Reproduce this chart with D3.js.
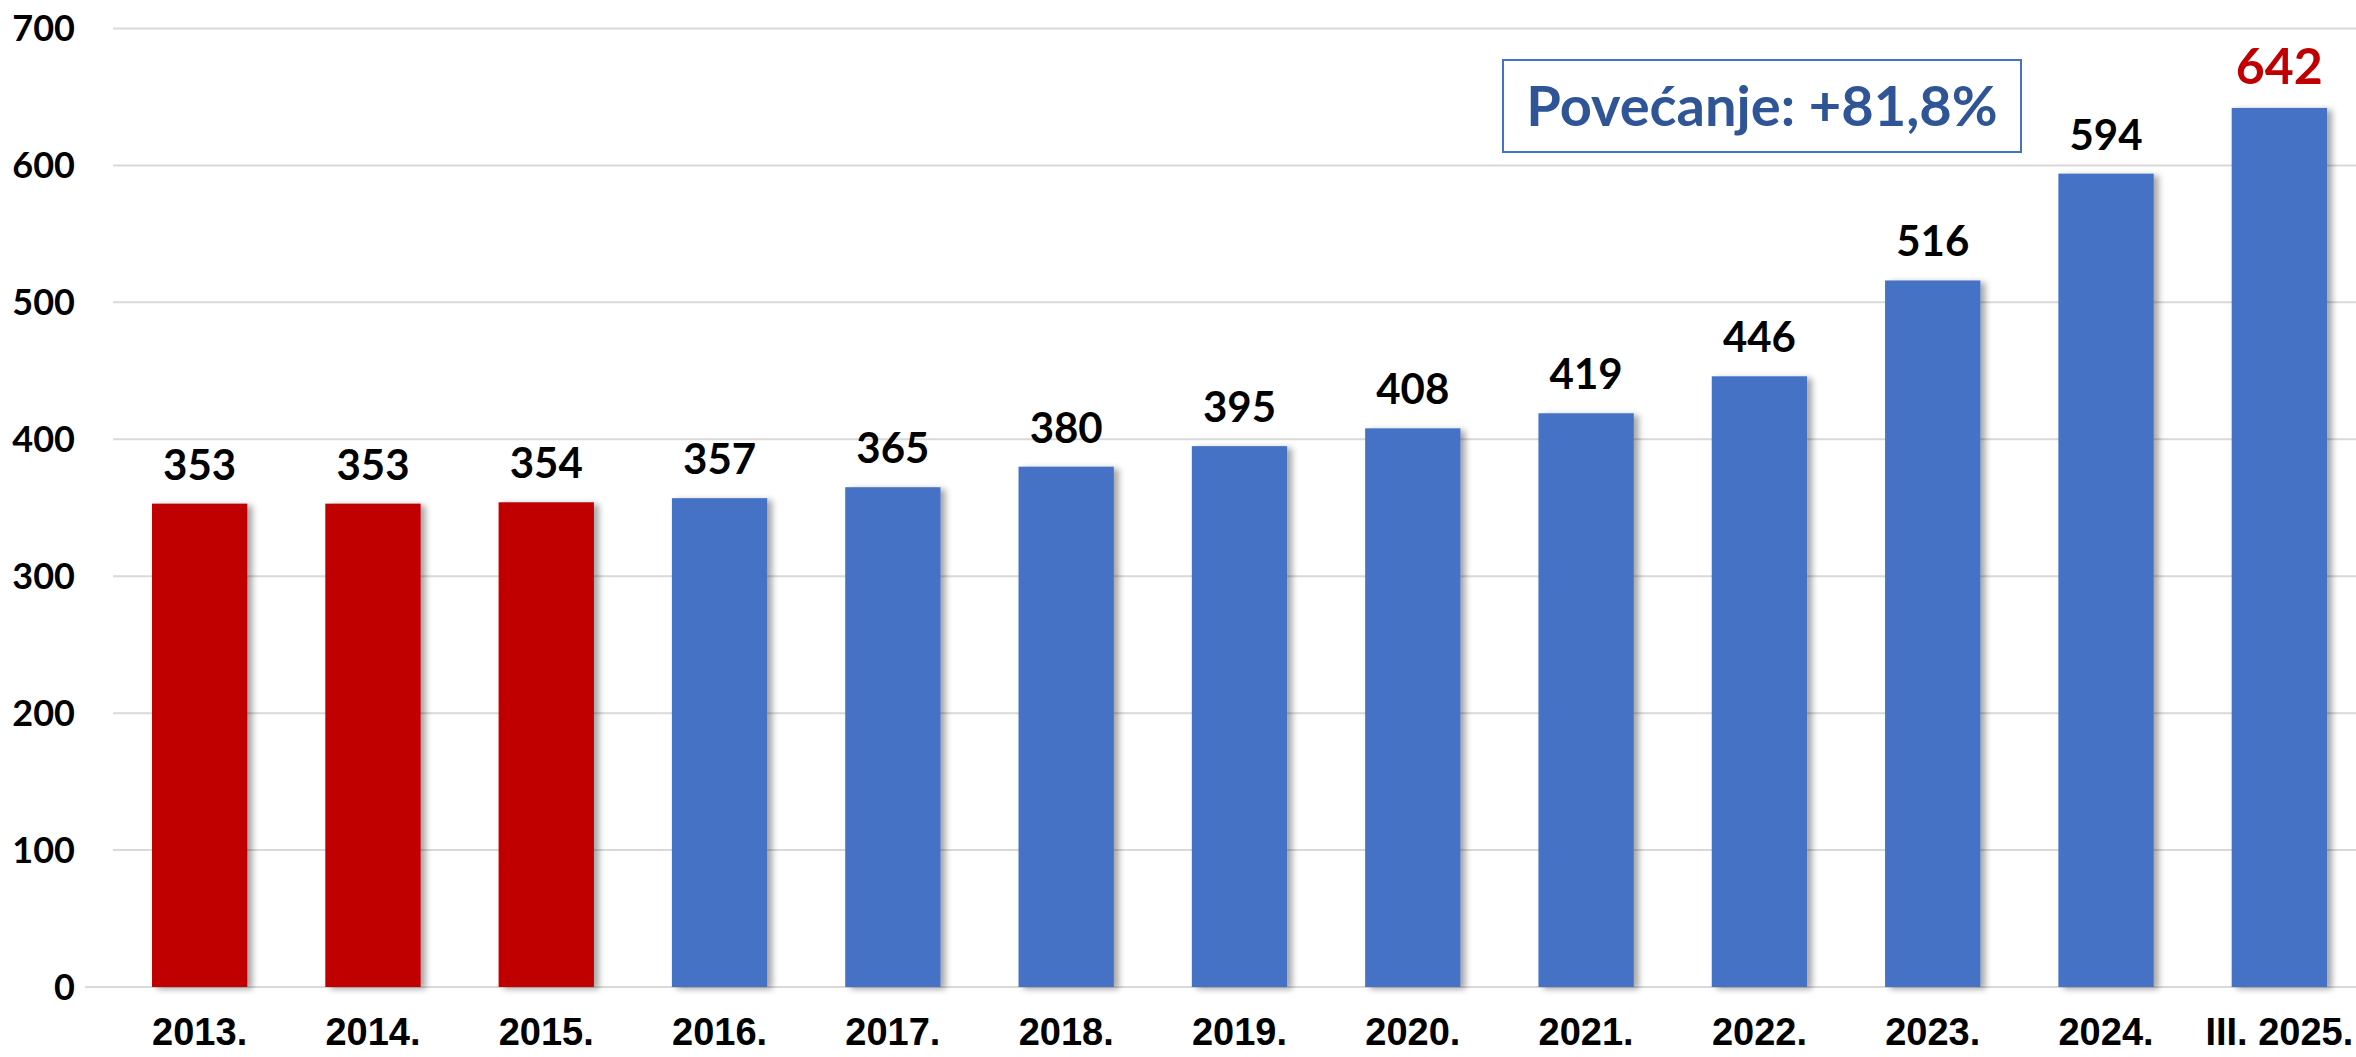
<!DOCTYPE html>
<html>
<head>
<meta charset="utf-8">
<script src="https://cdn.jsdelivr.net/npm/d3@7"></script>
<style>
  body { margin: 0; background: #fff; }
  svg { display: block; }
</style>
</head>
<body>
<div id="chart"></div>
<script>
// Data
const categories = ["2013.", "2014.", "2015.", "2016.", "2017.", "2018.", "2019.",
    "2020.", "2021.", "2022.", "2023.", "2024.", "III. 2025."];
const values = [353, 353, 354, 357, 365, 380, 395, 408, 419, 446, 516, 594, 642];
const redBars = ["2013.", "2014.", "2015."];
const yTicks = [0, 100, 200, 300, 400, 500, 600, 700];
const note = "Povećanje: +81,8%";

const data = categories.map((c, i) => ({ category: c, value: values[i] }));

const width = 2356;
const height = 1057;
const left = 113;

const svg = d3.select("#chart")
    .append("svg")
    .attr("width", width)
    .attr("height", height);

// soft shadow on the right side of the bars
const defs = svg.append("defs");
defs.append("filter")
    .attr("id", "shadow")
    .attr("x", "-20%").attr("y", "-5%")
    .attr("width", "150%").attr("height", "110%")
    .append("feDropShadow")
    .attr("dx", 5).attr("dy", 2)
    .attr("stdDeviation", 3)
    .attr("flood-color", "#000")
    .attr("flood-opacity", 0.35);

const x = d3.scaleBand()
    .domain(categories)
    .range([left, 2366])
    .paddingInner(0.45)
    .paddingOuter(0.225);

const y = d3.scaleLinear()
    .domain([0, 700])
    .range([987, 28.5]);

// Gridlines
svg.append("g")
    .selectAll("line")
    .data(yTicks)
    .enter()
    .append("line")
    .attr("x1", d => d === 0 ? 85 : left)
    .attr("x2", width)
    .attr("y1", d => y(d))
    .attr("y2", d => y(d))
    .attr("stroke", "#d9d9d9")
    .attr("stroke-width", 2);

// Y axis labels
svg.append("g")
    .selectAll("text")
    .data(yTicks)
    .enter()
    .append("text")
    .attr("x", 75)
    .attr("y", d => y(d))
    .attr("dy", "0.36em")
    .attr("text-anchor", "end")
    .style("font-family", "Lato, 'Open Sans', sans-serif")
    .style("font-weight", "bold")
    .style("font-size", "36px")
    .style("fill", "#000")
    .text(d => d);

// Bars
svg.append("g")
    .selectAll("rect")
    .data(data)
    .enter()
    .append("rect")
    .attr("x", d => x(d.category))
    .attr("y", d => y(d.value))
    .attr("width", x.bandwidth())
    .attr("height", d => y(0) - y(d.value))
    .attr("fill", d => redBars.includes(d.category) ? "#C00000" : "#4472C4")
    .attr("filter", "url(#shadow)");

// Value labels
const last = categories[categories.length - 1];
svg.append("g")
    .selectAll("text")
    .data(data)
    .enter()
    .append("text")
    .attr("x", d => x(d.category) + x.bandwidth() / 2)
    .attr("y", d => y(d.value) - 24)
    .attr("text-anchor", "middle")
    .style("font-family", "Lato, 'Open Sans', sans-serif")
    .style("font-weight", "bold")
    .style("font-size", d => d.category === last ? "50px" : "42px")
    .style("fill", d => d.category === last ? "#C00000" : "#000")
    .text(d => d.value);

// X axis labels
svg.append("g")
    .selectAll("text")
    .data(categories)
    .enter()
    .append("text")
    .attr("x", d => x(d) + x.bandwidth() / 2)
    .attr("y", 1045)
    .attr("text-anchor", "middle")
    .style("font-family", "'Liberation Sans', Arial, sans-serif")
    .style("font-weight", "bold")
    .style("font-size", "38px")
    .style("fill", "#000")
    .text(d => d);

// Annotation box
const box = svg.append("g");
box.append("rect")
    .attr("x", 1503)
    .attr("y", 60)
    .attr("width", 518)
    .attr("height", 92)
    .attr("fill", "#fff")
    .attr("stroke", "#4472C4")
    .attr("stroke-width", 2);
box.append("text")
    .attr("x", 1762)
    .attr("y", 106)
    .attr("dy", "0.36em")
    .attr("text-anchor", "middle")
    .style("font-family", "Lato, 'Open Sans', sans-serif")
    .style("font-weight", "bold")
    .style("font-size", "56px")
    .style("fill", "#2F5597")
    .text(note);
</script>
</body>
</html>
